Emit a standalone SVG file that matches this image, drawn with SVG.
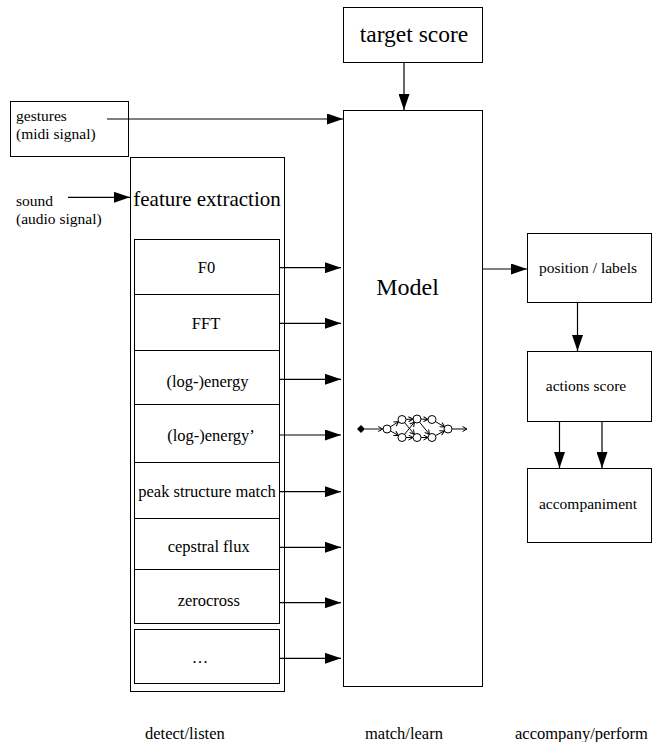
<svg xmlns="http://www.w3.org/2000/svg" width="660" height="742" viewBox="0 0 660 742">
<style>
rect.box{fill:#fff;stroke:#000;stroke-width:1}
text{font-family:'Liberation Serif','Times New Roman',Times,'DejaVu Serif',serif;fill:#000}
.s{font-size:16.5px}
.t{font-size:15.5px}
.r{font-size:15.5px}
.m{text-anchor:middle}
.c{stroke:#000;stroke-width:1.2;fill:none}
.g{stroke:#000;stroke-width:1;fill:none}
.n{stroke:#000;stroke-width:1;fill:#fff}
</style>
<defs>
<marker id="ah" viewBox="0 0 16 11" refX="16" refY="5.5" markerWidth="16" markerHeight="11" markerUnits="userSpaceOnUse" orient="auto">
<path d="M0,0 L16,5.5 L0,11 Z" fill="#000"/>
</marker>
<marker id="oa" viewBox="0 0 6 6" refX="5" refY="3" markerWidth="6" markerHeight="6" markerUnits="userSpaceOnUse" orient="auto">
<path d="M0.5,0.5 L5,3 L0.5,5.5" fill="none" stroke="#000" stroke-width="1"/>
</marker>
</defs>

<g id="gestures">
<rect class="box" x="10.5" y="101.5" width="118" height="55"/>
<text class="t" x="16" y="121">gestures</text>
<text class="t" x="16" y="138.5">(midi signal)</text>
</g>

<g id="sound">
<text class="t" x="16" y="205.5">sound</text>
<text class="t" x="16" y="223.5">(audio signal)</text>
</g>

<g id="target-score">
<rect class="box" x="343.5" y="7.5" width="139" height="55"/>
<text x="414" y="41.7" class="m" font-size="23.5px">target score</text>
</g>

<g id="feature-extraction">
<rect class="box" x="130.5" y="157.5" width="154" height="534"/>
<text x="207" y="205.5" class="m" font-size="21px">feature extraction</text>
</g>

<g id="f0">
<rect class="box" x="134.5" y="239.5" width="145" height="55"/>
<text class="s m" x="206.5" y="273.3">F0</text>
</g>
<g id="fft">
<rect class="box" x="134.5" y="294.5" width="145" height="56"/>
<text class="s m" x="206" y="329.3">FFT</text>
</g>
<g id="log-energy">
<rect class="box" x="134.5" y="350.5" width="145" height="54"/>
<text class="s m" x="207.5" y="386.5">(log-)energy</text>
</g>
<g id="log-energy-d">
<rect class="box" x="134.5" y="404.5" width="145" height="58"/>
<text class="s m" x="211" y="441">(log-)energy’</text>
</g>
<g id="peak">
<rect class="box" x="134.5" y="462.5" width="145" height="56"/>
<text class="s m" x="207" y="496.7">peak structure match</text>
</g>
<g id="cepstral">
<rect class="box" x="134.5" y="518.5" width="145" height="51"/>
<text class="s m" x="208.7" y="551.7">cepstral flux</text>
</g>
<g id="zerocross">
<rect class="box" x="134.5" y="569.5" width="145" height="54"/>
<text class="s m" x="208.8" y="606">zerocross</text>
</g>
<g id="more">
<rect class="box" x="134.5" y="629.5" width="145" height="54"/>
<text class="s m" x="200" y="663">…</text>
</g>

<g id="model">
<rect class="box" x="343.5" y="110.5" width="139" height="576"/>
<text x="407.5" y="295" class="m" font-size="24px">Model</text>
<g id="model-graph">
<polygon points="357,429 361,425 365,429 361,433" fill="#000"/>
<line x1="365" y1="429" x2="382.7" y2="429" stroke="#444" stroke-width="1.3" marker-end="url(#oa)"/>
<g class="g" marker-end="url(#oa)">
<line x1="390.4" y1="426.9" x2="398.6" y2="421.6"/>
<line x1="390.5" y1="431" x2="398.5" y2="435.5"/>
<line x1="406" y1="419.4" x2="413" y2="419.1"/>
<line x1="406" y1="437.5" x2="413" y2="437.5"/>
<line x1="404.6" y1="422.6" x2="414.4" y2="434.4"/>
<line x1="404.5" y1="434.4" x2="414.5" y2="422.1"/>
<line x1="421" y1="419.1" x2="428" y2="419.4"/>
<line x1="421" y1="437.5" x2="428" y2="437.5"/>
<line x1="419.5" y1="422.1" x2="429.5" y2="434.4"/>
<line x1="435.4" y1="421.5" x2="444.6" y2="427"/>
<line x1="435.5" y1="435.6" x2="444.5" y2="430.9"/>
<line x1="452" y1="429" x2="467" y2="429"/>
</g>
<circle class="n" cx="387" cy="429" r="4"/>
<circle class="n" cx="402" cy="419.5" r="4"/>
<circle class="n" cx="417" cy="419" r="4"/>
<circle class="n" cx="432" cy="419.5" r="4"/>
<circle class="n" cx="402" cy="437.5" r="4"/>
<circle class="n" cx="417" cy="437.5" r="4"/>
<circle class="n" cx="432" cy="437.5" r="4"/>
<circle class="n" cx="448" cy="429" r="4"/>
</g>
</g>

<g id="position-labels">
<rect class="box" x="527.5" y="233.5" width="124" height="69"/>
<text class="r m" x="588" y="273">position / labels</text>
</g>
<g id="actions-score">
<rect class="box" x="527.5" y="351.5" width="124" height="70"/>
<text class="r m" x="586" y="391">actions score</text>
</g>
<g id="accompaniment">
<rect class="box" x="527.5" y="468.5" width="124" height="74"/>
<text class="r m" x="588" y="508.5">accompaniment</text>
</g>

<g id="connectors" class="c" marker-end="url(#ah)">
<line x1="107" y1="119" x2="343" y2="119"/>
<line x1="68" y1="197.3" x2="130" y2="197.3"/>
<line x1="404" y1="62" x2="404" y2="110"/>
<line x1="279" y1="267.7" x2="341" y2="267.7"/>
<line x1="279" y1="323.3" x2="341" y2="323.3"/>
<line x1="279" y1="379.3" x2="341" y2="379.3"/>
<line x1="279" y1="435" x2="341" y2="435"/>
<line x1="279" y1="491.7" x2="341" y2="491.7"/>
<line x1="279" y1="547.3" x2="341" y2="547.3"/>
<line x1="279" y1="602.7" x2="341" y2="602.7"/>
<line x1="279" y1="658.3" x2="341" y2="658.3"/>
<line x1="482" y1="269" x2="527" y2="269"/>
<line x1="577.5" y1="302" x2="577.5" y2="351"/>
<line x1="559.5" y1="421" x2="559.5" y2="468"/>
<line x1="602" y1="421" x2="602" y2="468"/>
</g>

<g id="stage-labels">
<text class="s" x="145" y="739">detect/listen</text>
<text class="s" x="365" y="739">match/learn</text>
<text class="s" x="515" y="739">accompany/perform</text>
</g>
</svg>
